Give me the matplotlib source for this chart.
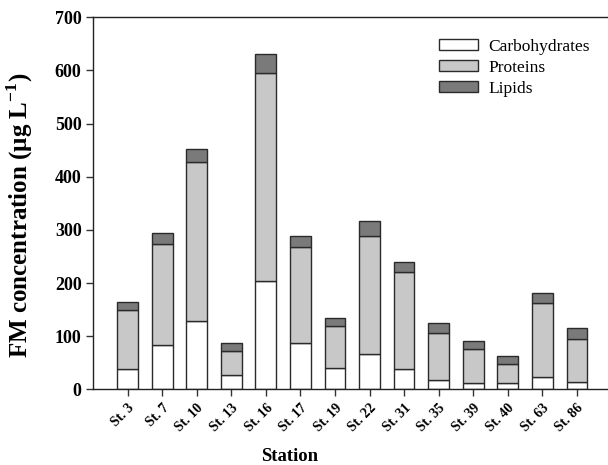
import numpy as np
import matplotlib
matplotlib.use("Agg")
import matplotlib.pyplot as plt

stations = ["St. 3", "St. 7", "St. 10", "St. 13", "St. 16", "St. 17", "St. 19",
            "St. 22", "St. 31", "St. 35", "St. 39", "St. 40", "St. 63", "St. 86"]
carbohydrates = [38, 83, 128, 27, 204, 87, 41, 66, 38, 18, 12, 12, 23, 13]
proteins = [111, 190, 299, 45, 391, 180, 79, 222, 183, 88, 64, 36, 139, 82]
lipids = [15, 21, 26, 15, 36, 22, 15, 28, 18, 18, 15, 15, 19, 20]

plt.rcParams['font.family'] = ['Liberation Serif', 'DejaVu Serif']
plt.rcParams['mathtext.fontset'] = 'custom'
plt.rcParams['mathtext.rm'] = 'Liberation Serif'
plt.rcParams['mathtext.bf'] = 'Liberation Serif:bold'

fig = plt.figure(figsize=(6.08, 4.65), dpi=100)
ax = fig.add_axes([0.1525, 0.1628, 0.8475, 0.80])

x = np.arange(len(stations))
carb = np.array(carbohydrates)
prot = np.array(proteins)
lip = np.array(lipids)
w = 0.6
ec = '#2a2a2a'
ax.bar(x, carb, w, color='white', edgecolor=ec, linewidth=1, label='Carbohydrates')
ax.bar(x, prot, w, bottom=carb, color='#c8c8c8', edgecolor=ec, linewidth=1, label='Proteins')
ax.bar(x, lip, w, bottom=carb + prot, color='#7a7a7a', edgecolor=ec, linewidth=1, label='Lipids')

ax.set_xlim(-1.01, 13.9)
ax.set_ylim(0, 700)
ax.set_yticks(range(0, 701, 100))
ax.set_xticks(x)
ax.set_xticklabels(stations, rotation=45, ha='right', va='top', rotation_mode='anchor',
                   fontsize=10, fontweight='bold')
for lab in ax.get_yticklabels():
    lab.set_fontweight('bold')
    lab.set_fontsize(13)
ax.tick_params(direction='out', length=5, width=1, color='#333333')
ax.tick_params(axis='x', pad=4)
ax.tick_params(axis='y', pad=3)
ax.spines['right'].set_visible(False)
for s in ['left', 'top', 'bottom']:
    ax.spines[s].set_linewidth(1)
    ax.spines[s].set_color('#222222')

ax.set_ylabel('FM concentration (\u03bcg L$^{\\mathbf{-1}}$)', fontsize=18, fontweight='bold')
ax.yaxis.set_label_coords(-0.112, 0.468)
ax.set_xlabel('Station', fontsize=13.5, fontweight='bold')
ax.xaxis.set_label_coords(0.383, -0.158)

ax.legend(loc='upper right', frameon=False, fontsize=12.5, handlelength=2.25, handleheight=0.6,
          handletextpad=0.6, bbox_to_anchor=(0.995, 0.985), labelspacing=0.3)

fig.savefig('out.png', dpi=100)
